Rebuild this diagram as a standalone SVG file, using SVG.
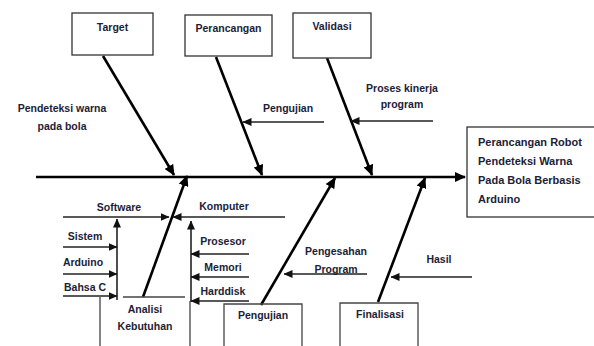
<svg xmlns="http://www.w3.org/2000/svg" width="594" height="346" viewBox="0 0 594 346">
<style>
text{font-family:"Liberation Sans",Arial,sans-serif;font-size:10.5px;font-weight:bold;fill:#1c2236;}
.head text{font-size:11px;}
.box{fill:#fff;stroke:#333;stroke-width:1.3;}
.open{fill:none;stroke:#444;stroke-width:1.3;}
.main{stroke:#000;stroke-width:2.6;fill:none;}
.sub{stroke:#222;stroke-width:1.6;fill:none;}
</style>
<defs>
<marker id="big" markerUnits="userSpaceOnUse" markerWidth="11" markerHeight="10" refX="10" refY="5" orient="auto">
<path d="M0,0 L11,5 L0,10 z" fill="#000"/>
</marker>
<marker id="small" markerUnits="userSpaceOnUse" markerWidth="9" markerHeight="8" refX="8.5" refY="4" orient="auto">
<path d="M0,0 L9,4 L0,8 z" fill="#111"/>
</marker>
</defs>
<rect width="594" height="346" fill="#fff"/>

<g id="connectors">
<line class="main" x1="36" y1="177" x2="465" y2="177" marker-end="url(#big)"/>
<line class="main" x1="103" y1="56" x2="174" y2="175" marker-end="url(#big)"/>
<line class="main" x1="216" y1="57" x2="262" y2="175" marker-end="url(#big)"/>
<line class="main" x1="327" y1="58" x2="372" y2="175" marker-end="url(#big)"/>
<line class="main" x1="143" y1="297" x2="187" y2="176" marker-end="url(#big)"/>
<line class="main" x1="261" y1="305" x2="335" y2="178" marker-end="url(#big)"/>
<line class="main" x1="378" y1="302" x2="425" y2="178" marker-end="url(#big)"/>
<line class="sub" x1="324" y1="122" x2="243" y2="122" marker-end="url(#small)"/>
<line class="sub" x1="433" y1="121" x2="351" y2="121" marker-end="url(#small)"/>
<line class="sub" x1="63" y1="217" x2="169" y2="217" marker-end="url(#small)"/>
<line class="sub" x1="285" y1="217" x2="173" y2="217" marker-end="url(#small)"/>
<line class="sub" x1="117" y1="300" x2="117" y2="219" marker-end="url(#small)"/>
<line class="sub" x1="63" y1="247" x2="117" y2="247" marker-end="url(#small)"/>
<line class="sub" x1="63" y1="274" x2="117" y2="274" marker-end="url(#small)"/>
<line class="sub" x1="63" y1="296" x2="117" y2="296" marker-end="url(#small)"/>
<line class="sub" x1="191" y1="302" x2="191" y2="221" marker-end="url(#small)"/>
<line class="sub" x1="249" y1="254" x2="191" y2="254" marker-end="url(#small)"/>
<line class="sub" x1="249" y1="277" x2="191" y2="277" marker-end="url(#small)"/>
<line class="sub" x1="249" y1="301" x2="191" y2="301" marker-end="url(#small)"/>
<line class="sub" x1="367" y1="274" x2="284" y2="274" marker-end="url(#small)"/>
<line class="sub" x1="472" y1="277" x2="391" y2="277" marker-end="url(#small)"/>
</g>

<g id="target"><rect class="box" x="72" y="13" width="81" height="42"/><text x="112.5" y="31" text-anchor="middle">Target</text></g>
<g id="perancangan"><rect class="box" x="185" y="15" width="87" height="41"/><text x="228.5" y="32" text-anchor="middle">Perancangan</text></g>
<g id="validasi"><rect class="box" x="293" y="13" width="78" height="45"/><text x="332" y="30" text-anchor="middle">Validasi</text></g>

<g id="head" class="head"><rect class="box" x="467" y="127" width="130" height="90"/>
<text x="478" y="146">Perancangan Robot</text>
<text x="478" y="165">Pendeteksi Warna</text>
<text x="478" y="184">Pada Bola Berbasis</text>
<text x="478" y="203">Arduino</text></g>

<g id="analisi"><path class="open" d="M100,346 V297 M123,297 H185 M190,301 V346"/>
<text x="145" y="313" text-anchor="middle">Analisi</text>
<text x="145" y="330" text-anchor="middle">Kebutuhan</text></g>
<g id="pengujian-box"><path class="open" d="M224,346 V304 H302 V346"/><text x="263" y="319" text-anchor="middle">Pengujian</text></g>
<g id="finalisasi"><path class="open" d="M340,346 V303 H418 V346"/><text x="380" y="318" text-anchor="middle">Finalisasi</text></g>

<g id="label-pendeteksi"><text x="62" y="112" text-anchor="middle">Pendeteksi warna</text><text x="62" y="130" text-anchor="middle">pada bola</text></g>
<g id="label-pengujian"><text x="288" y="112" text-anchor="middle">Pengujian</text></g>
<g id="label-proses"><text x="402" y="92" text-anchor="middle">Proses kinerja</text><text x="402" y="108" text-anchor="middle">program</text></g>
<g id="label-software"><text x="119" y="211" text-anchor="middle">Software</text></g>
<g id="label-komputer"><text x="224" y="210" text-anchor="middle">Komputer</text></g>
<g id="label-sistem"><text x="85" y="240" text-anchor="middle">Sistem</text></g>
<g id="label-arduino"><text x="83" y="266" text-anchor="middle">Arduino</text></g>
<g id="label-bahsa"><text x="85" y="291" text-anchor="middle">Bahsa C</text></g>
<g id="label-prosesor"><text x="223" y="245" text-anchor="middle">Prosesor</text></g>
<g id="label-memori"><text x="223" y="271" text-anchor="middle">Memori</text></g>
<g id="label-harddisk"><text x="223" y="295" text-anchor="middle">Harddisk</text></g>
<g id="label-pengesahan"><text x="336" y="255" text-anchor="middle">Pengesahan</text><text x="336" y="273" text-anchor="middle">Program</text></g>
<g id="label-hasil"><text x="439" y="263" text-anchor="middle">Hasil</text></g>
</svg>
